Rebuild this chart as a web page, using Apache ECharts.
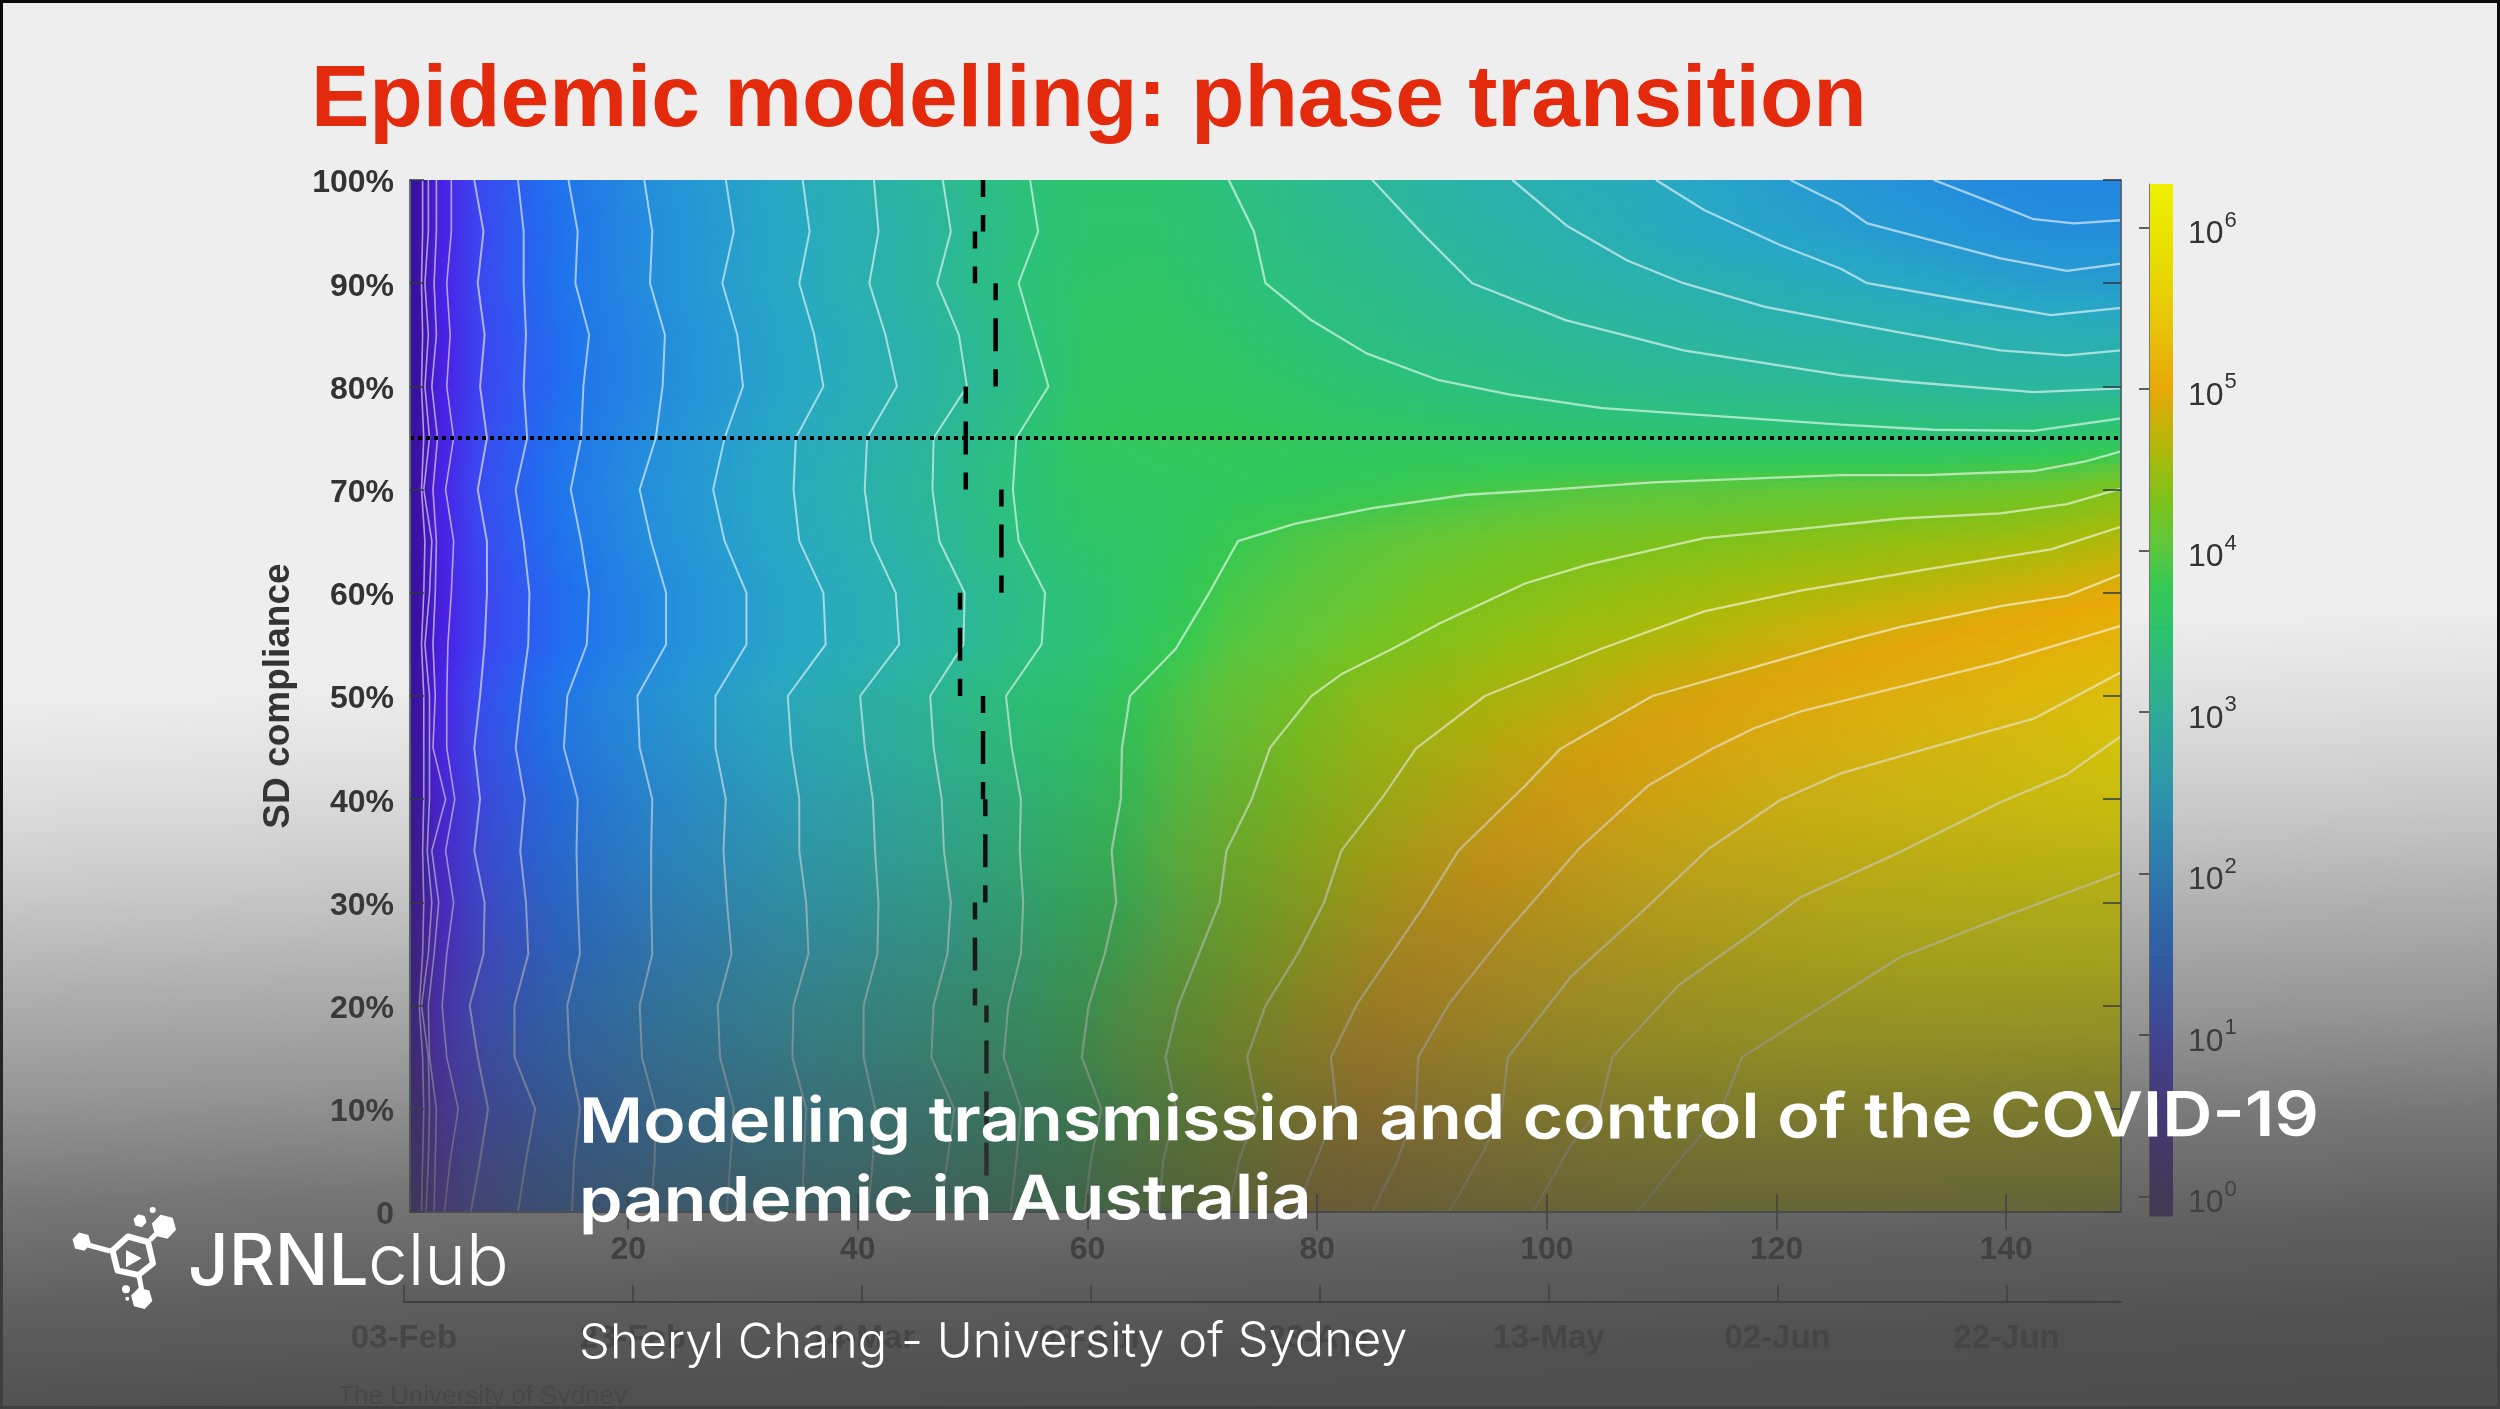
<!DOCTYPE html>
<html>
<head>
<meta charset="utf-8">
<style>html,body{margin:0;padding:0;background:#eee}#c{width:2500px;height:1409px}</style>
<script src="https://cdn.jsdelivr.net/npm/echarts@6/dist/echarts.min.js"></script>
</head>
<body>
<div id="c"></div>
<script>
// ---- heat surface: log10(cases), one row per SD compliance level
const dayColumns = [1,2,3,5,7,11,15,22,29,35,41,47,54,60,66,72,78,84,90,96,102,108,114,120,126,132,138,144,150];
const complianceRows = [100,95,90,85,80,75,70,65,60,55,50,45,40,35,30,25,20,15,10,5,0];
const row100=[-0.05,0.08,0.36,0.70,1.00,1.33,1.60,1.99,2.31,2.59,2.84,3.09,3.36,3.50,3.50,3.36,3.20,3.07,2.95,2.82,2.70,2.58,2.45,2.28,2.15,2.00,1.90,1.85,1.85];
const row95 =[-0.05,0.08,0.35,0.68,0.98,1.30,1.57,1.95,2.27,2.55,2.80,3.05,3.33,3.52,3.52,3.40,3.25,3.15,3.02,2.92,2.80,2.65,2.48,2.38,2.28,2.15,2.05,1.96,1.96];
const row90 =[-0.05,0.08,0.36,0.69,0.99,1.31,1.59,1.97,2.29,2.57,2.82,3.07,3.38,3.55,3.58,3.45,3.32,3.22,3.12,3.00,2.93,2.85,2.77,2.67,2.58,2.48,2.38,2.28,2.25];
const row85 =[-0.05,0.07,0.33,0.65,0.94,1.26,1.53,1.90,2.22,2.50,2.75,3.00,3.31,3.60,3.62,3.55,3.42,3.30,3.22,3.17,3.10,3.02,2.97,2.90,2.87,2.82,2.78,2.72,2.70];
const row80 =[-0.05,0.07,0.33,0.65,0.93,1.25,1.52,1.89,2.21,2.49,2.74,2.99,3.27,3.62,3.66,3.62,3.55,3.45,3.38,3.30,3.24,3.20,3.17,3.14,3.12,3.07,3.03,3.02,3.03];
const row75 =[-0.05,0.08,0.36,0.69,0.99,1.31,1.59,1.97,2.29,2.57,2.82,3.07,3.38,3.66,3.70,3.72,3.68,3.63,3.60,3.55,3.52,3.50,3.48,3.47,3.46,3.45,3.45,3.50,3.60];
const row70 =[-0.05,0.09,0.38,0.72,1.04,1.36,1.64,2.02,2.34,2.62,2.87,3.12,3.40,3.60,3.64,3.68,3.72,3.76,3.84,3.90,3.96,4.00,4.02,4.04,4.07,4.10,4.14,4.20,4.32];
const row65 =[-0.05,0.08,0.36,0.69,0.99,1.31,1.59,1.97,2.29,2.57,2.82,3.07,3.36,3.55,3.60,3.78,3.92,4.02,4.10,4.18,4.24,4.28,4.31,4.36,4.40,4.46,4.50,4.56,4.66];
const row60 =[-0.05,0.07,0.32,0.64,0.92,1.24,1.50,1.88,2.20,2.48,2.73,2.98,3.26,3.45,3.65,3.88,4.00,4.10,4.24,4.31,4.40,4.46,4.53,4.60,4.66,4.72,4.80,4.88,4.98];
const row55 =[-0.05,0.07,0.32,0.64,0.92,1.24,1.50,1.88,2.20,2.48,2.73,2.98,3.27,3.45,3.72,3.95,4.08,4.22,4.35,4.45,4.55,4.63,4.72,4.82,4.92,5.00,5.08,5.15,5.22];
const row50 =[-0.05,0.09,0.38,0.73,1.05,1.37,1.65,2.03,2.35,2.63,2.88,3.13,3.41,3.55,3.85,4.07,4.22,4.42,4.52,4.63,4.72,4.88,4.97,5.07,5.15,5.22,5.28,5.36,5.46];
const row45 =[-0.05,0.09,0.38,0.72,1.04,1.36,1.64,2.02,2.34,2.62,2.87,3.12,3.39,3.60,3.88,4.10,4.30,4.50,4.62,4.77,4.92,5.03,5.14,5.22,5.30,5.38,5.44,5.55,5.70];
const row40 =[-0.05,0.08,0.35,0.68,0.98,1.30,1.57,1.95,2.27,2.55,2.80,3.05,3.35,3.60,3.90,4.15,4.35,4.55,4.72,4.88,5.03,5.17,5.27,5.40,5.48,5.56,5.64,5.72,5.78];
const row35 =[-0.05,0.08,0.35,0.69,0.99,1.31,1.58,1.96,2.28,2.56,2.81,3.06,3.36,3.65,3.95,4.22,4.44,4.66,4.83,5.00,5.13,5.28,5.40,5.48,5.58,5.66,5.70,5.77,5.84];
const row30 =[-0.05,0.08,0.35,0.67,0.97,1.29,1.56,1.94,2.26,2.54,2.79,3.04,3.33,3.65,3.93,4.24,4.48,4.73,4.93,5.08,5.22,5.38,5.50,5.60,5.72,5.78,5.85,5.92,5.98];
const row25 =[-0.05,0.08,0.34,0.66,0.96,1.28,1.55,1.93,2.25,2.53,2.78,3.03,3.34,3.72,4.00,4.30,4.56,4.82,5.00,5.18,5.33,5.46,5.60,5.72,5.82,5.92,5.98,6.02,6.05];
const row20 =[-0.05,0.09,0.38,0.72,1.04,1.36,1.64,2.02,2.34,2.62,2.87,3.12,3.38,3.80,4.08,4.40,4.67,4.92,5.10,5.28,5.44,5.57,5.70,5.82,5.92,6.00,6.03,6.06,6.08];
const row15 =[-0.05,0.09,0.38,0.72,1.04,1.36,1.64,2.02,2.34,2.62,2.87,3.12,3.40,3.82,4.14,4.46,4.75,5.00,5.20,5.38,5.55,5.72,5.83,5.95,6.02,6.06,6.08,6.10,6.12];
const row10 =[-0.05,0.08,0.34,0.65,0.95,1.27,1.54,1.92,2.24,2.52,2.77,3.02,3.34,3.73,4.08,4.40,4.72,5.00,5.20,5.40,5.58,5.75,5.89,5.98,6.04,6.07,6.10,6.12,6.13];
const row5  =[-0.05,0.08,0.35,0.68,0.98,1.30,1.57,1.95,2.27,2.55,2.80,3.05,3.36,3.78,4.14,4.48,4.79,5.05,5.26,5.45,5.65,5.82,5.93,6.02,6.07,6.10,6.12,6.13,6.15];
const row0  =[-0.05,0.08,0.36,0.70,1.01,1.33,1.60,1.98,2.30,2.58,2.83,3.08,3.38,3.81,4.16,4.52,4.87,5.12,5.34,5.55,5.73,5.90,6.00,6.06,6.10,6.13,6.15,6.16,6.17];
const heatRows=[row100,row95,row90,row85,row80,row75,row70,row65,row60,row55,row50,row45,row40,row35,row30,row25,row20,row15,row10,row5,row0];

// ---- colour scale
const colormapExp=[-0.12,0,0.5,1,1.5,2,2.5,3,3.5,3.8,4,4.3,4.6,5,5.4,5.8,6.27];
const colormapColor=['#38109a','#3a10a0','#4a22e6','#3a48f0','#2070ee','#2490da','#28a8c4','#2bb5a0','#2cc56e','#36c852','#5ac73e','#7cc21c','#aaba0a','#e8a808','#e8c408','#e8dc00','#eef000'];

// ---- contour lines: day reached at each compliance row
const contour1=[2.1,2.1,2.0,2.1,2.0,2.2,2.0,2.3,2.2,2.0,2.2,2.2,2.2,2.1,2.2,2.1,1.8,2.1,2.2,2.1,2.0];
const contour2=[2.6,2.6,2.3,2.6,2.3,2.7,2.2,2.9,2.7,2.3,2.7,2.7,2.7,2.5,2.9,2.6,2.0,2.6,2.7,2.6,2.4];
const contour3=[3.3,3.3,3.1,3.3,2.9,3.4,3.0,3.3,3.2,3.0,3.2,3.0,4.1,2.9,3.5,3.1,2.6,2.7,3.3,3.2,3.1];
const contour4=[4.6,4.6,4.2,4.5,4.2,4.8,4.1,4.8,4.6,4.3,4.2,4.2,4.9,4.1,4.8,4.2,3.8,4.2,5.2,4.5,4.0];
const contour5=[6.6,7.4,6.9,7.5,7.1,7.7,6.9,7.7,7.7,7.5,7.1,6.6,7.1,6.6,7.5,7.4,6.2,6.9,7.8,7.1,6.3];
const contour6=[10.4,10.9,10.9,11.1,10.9,11.2,10.2,10.9,11.4,11.3,10.7,10.2,11.0,10.6,11.1,11.3,10.1,10.1,11.9,11.1,10.4];
const contour7=[14.8,15.6,15.4,16.6,16.1,15.9,15.0,15.9,16.6,16.4,14.7,14.4,15.6,15.5,15.6,15.8,14.7,14.9,15.8,15.3,15.1];
const contour8=[21.4,22.1,21.9,23.2,23.0,22.4,21.0,22.0,23.3,23.3,20.8,21.0,22.1,22.0,22.0,22.1,21.0,21.2,22.4,22.3,22.0];
const contour9=[28.5,29.2,28.2,29.5,30.0,28.4,27.4,28.4,30.3,30.3,27.6,27.6,28.5,28.3,28.6,29.0,27.8,28.0,29.2,28.9,28.6];
const contour10=[35.2,35.8,34.9,36.2,37.0,34.6,34.4,34.9,37.0,37.2,33.9,34.2,34.9,34.9,35.5,35.7,34.4,34.3,35.5,35.3,35.1];
const contour11=[41.4,41.8,41.0,42.4,43.4,40.8,40.6,41.2,43.3,43.6,40.2,40.6,41.3,41.5,41.8,41.7,40.5,40.5,41.5,41.3,40.9];
const contour12=[47.4,48.1,46.9,48.8,49.5,46.6,46.5,47.1,49.3,49.2,46.3,46.6,47.3,47.5,48.1,47.8,46.6,46.4,48.4,47.8,47.1];
const contour13=[55.0,55.7,54.0,55.3,56.6,53.8,53.5,54.0,56.3,56.0,52.9,53.4,54.2,54.1,54.4,54.2,53.1,52.7,54.2,53.8,53.3];
const verticalContours=[contour1,contour2,contour3,contour4,contour5,contour6,contour7,contour8,contour9,contour10,contour11,contour12,contour13];

// ---- contour lines as [day, compliance] pairs
const upper1=[[133.7,100],[138.1,98.1],[142.4,96.2],[145.9,95.8],[150,96.1]];
const upper2=[[121.2,100],[125.6,97.6],[127.9,95.8],[133.7,94.1],[139.5,92.4],[145.3,91.2],[150,91.9]];
const upper3=[[109.5,100],[113.7,97.1],[120.3,93.7],[125.6,91.4],[127.9,90],[136.6,88.3],[143.9,86.9],[150,87.6]];
const upper4=[[97,100],[101.7,95.6],[107,92.2],[111.9,90],[119,87.7],[125.6,86.3],[130.8,85.2],[139.5,83.5],[145.3,83],[150,83.5]];
const upper5=[[84.8,100],[89,95],[93.5,90],[101.7,86.4],[111.9,83.5],[125.6,81.1],[130.8,80.5],[142.4,79.45],[150,79.8]];
const upper6=[[72.3,100],[74.5,95],[75.5,90],[79.5,86.4],[84.3,83.2],[90.6,80.6],[96.8,79.2],[104.8,77.9],[125.6,76.3],[133.7,75.8],[142.4,75.7],[150,76.9]];
const lower1=[[59.7,0],[60.3,5],[61.2,10],[59.5,15],[60.1,20],[61.5,25],[62.5,30],[62.1,35],[62.9,40],[63,45],[63.7,50],[67.7,54.6],[70.6,60],[73.1,65],[78.1,66.7],[84.8,68.2],[93,69.5],[100.3,70],[109.2,70.7],[125.6,71.4],[133,71.4],[142.4,71.8],[146.8,72.7],[150,73.7]];
const lower2=[[66.2,0],[66.6,5],[67.7,10],[66.8,15],[67.9,20],[69.7,25],[71.5,30],[72.1,35],[74.3,40],[75.9,45],[79.5,50],[82.1,52.1],[86.6,54.6],[90.6,57],[98.1,60.9],[103.5,62.7],[113.7,65.3],[122.1,66.2],[130.8,67.2],[139.5,67.7],[145.3,68.6],[150,70.1]];
const lower3=[[72.3,0],[73.2,5],[74.8,10],[73.9,15],[75.5,20],[78.3,25],[80.6,30],[82.1,35],[85.7,40.2],[88.6,44.9],[94.6,50],[104.8,54.6],[113.7,58.2],[122.1,60.2],[133.7,62.4],[143.9,64.2],[150,66.4]];
const lower4=[[78.1,0],[79.9,5],[81.7,10],[81.2,15],[83.5,20.2],[89.2,29.5],[92.3,35],[98.1,41.3],[101.2,44.9],[109.2,50],[118.1,52.8],[125.6,55.2],[130.8,56.7],[139.5,58.7],[145.3,59.7],[150,61.8]];
const lower5=[[84.8,0],[87,5],[88.6,10],[88.8,15],[91.5,20.2],[96.3,26.9],[102.8,35.2],[108.8,41.3],[114.6,45],[118.1,46.9],[122.1,48.5],[130.8,50.9],[139.5,53.3],[150,56.8]];
const lower6=[[91.5,0],[94.6,6.1],[96.1,10],[96.6,15],[102.1,22.8],[108.3,29.1],[114.1,35.2],[120.3,39.9],[125.6,42.5],[133.7,45.1],[142.4,47.8],[150,52.3]];
const lower7=[[98.8,0],[102.1,6.5],[104.6,10],[105.7,15],[111.5,22],[118.1,27.2],[122.1,30.5],[130.8,34.9],[139.5,39.7],[145.3,42.4],[150,46.1]];
const lower8=[[107.9,0],[111.5,5],[115,9.4],[117,15],[122.1,18.6],[130.8,24.7],[139.5,28.5],[150,32.9]];
const curvedContours=[upper1,upper2,upper3,upper4,upper5,upper6,lower1,lower2,lower3,lower4,lower5,lower6,lower7,lower8];

// ---- peak-day dashes [day, from compliance, to compliance] and the 75% line
const peakDay=[[50.9,100,95],[50.2,95,90],[52,90,80],[49.4,80,70],[52.5,70,60],[48.9,60,50],[50.9,50,40],[51.1,40,30],[50.2,30,20],[51.2,20,3]];
const thresholdCompliance=[75];

// ---- tick labels
const dayTicks=[20,40,60,80,100,120,140];
const complianceTicks=[0,10,20,30,40,50,60,70,80,90,100];
const dateOffsets=[0,20,40,60,80,100,120,140];
const dateLabels=['03-Feb','23-Feb','14-Mar','03-Apr','23-Apr','13-May','02-Jun','22-Jun'];
const colorbarExponents=[0,1,2,3,4,5,6];

function hexRgb(h){return [parseInt(h.slice(1,3),16),parseInt(h.slice(3,5),16),parseInt(h.slice(5,7),16)];}
const cmRgb=colormapColor.map(hexRgb);
function colorAt(v){
  if(v<=colormapExp[0])return colormapColor[0];
  for(let i=1;i<colormapExp.length;i++){
    if(v<=colormapExp[i]){
      const t=(v-colormapExp[i-1])/(colormapExp[i]-colormapExp[i-1]);
      const a=cmRgb[i-1],b=cmRgb[i];
      return 'rgb('+[0,1,2].map(k=>Math.round(a[k]+(b[k]-a[k])*t)).join(',')+')';
    }
  }
  return colormapColor[colormapColor.length-1];
}
function hGradient(vL,vR){
  const colorStops=[];
  for(let k=0;k<=4;k++)colorStops.push({offset:k/4,color:colorAt(vL+(vR-vL)*k/4)});
  return {type:'linear',x:0,y:0,x2:1,y2:0,colorStops};
}
const heatCells=[];
for(let r=0;r<complianceRows.length-1;r++){
  for(let c=0;c<dayColumns.length-1;c++){
    heatCells.push([dayColumns[c],dayColumns[c+1],complianceRows[r],complianceRows[r+1],
      heatRows[r][c],heatRows[r][c+1],heatRows[r+1][c],heatRows[r+1][c+1]]);
  }
}
function renderHeat(params,api){
  const x0=api.value(0),x1=api.value(1),pT=api.value(2),pB=api.value(3);
  const tl=api.value(4),tr=api.value(5),bl=api.value(6),br=api.value(7);
  const a=api.coord([x0,pT]),b=api.coord([x1,pB]);
  const N=6,h=(b[1]-a[1])/N,children=[];
  for(let s=0;s<N;s++){
    const t=(s+0.5)/N;
    children.push({type:'rect',silent:true,
      shape:{x:a[0],y:a[1]+s*h,width:b[0]-a[0]+(x1<150?1:0),height:h+(pB>0||s<N-1?1:0)},
      style:{fill:hGradient(tl+(bl-tl)*t,tr+(br-tr)*t)}});
  }
  return {type:'group',children};
}
const colorbarCells=[];
for(let i=0;i<colormapExp.length-1;i++)colorbarCells.push([colormapExp[i],colormapExp[i+1]]);
function renderBar(params,api){
  const e0=api.value(0),e1=api.value(1);
  const a=api.coord([0,e1]),b=api.coord([1,e0]);
  return {type:'rect',silent:true,shape:{x:a[0],y:a[1],width:b[0]-a[0],height:b[1]-a[1]+0.5},
    style:{fill:{type:'linear',x:0,y:0,x2:0,y2:1,colorStops:[{offset:0,color:colorAt(e1)},{offset:1,color:colorAt(e0)}]}}};
}

const series=[];
series.push({type:'custom',name:'surface',xAxisIndex:0,yAxisIndex:0,data:heatCells,renderItem:renderHeat,z:1,animation:false,silent:true,progressive:0,clip:true,encode:{x:0,y:2}});
const contourStyle={color:'rgba(255,255,255,0.58)',width:2.3};
verticalContours.forEach((xs,i)=>series.push({type:'line',name:'contour'+(i+1),xAxisIndex:0,yAxisIndex:0,
  data:xs.map((x,r)=>[x,complianceRows[r]]),showSymbol:false,symbol:'none',silent:true,animation:false,z:2,
  lineStyle:Object.assign({},contourStyle,{width:i<4?1.6:2})}));
curvedContours.forEach((pts,i)=>series.push({type:'line',name:'curve'+(i+1),xAxisIndex:0,yAxisIndex:0,
  data:pts,showSymbol:false,symbol:'none',silent:true,animation:false,z:2,lineStyle:contourStyle}));
series.push({type:'line',name:'threshold',xAxisIndex:0,yAxisIndex:0,data:[[1,thresholdCompliance[0]],[150,thresholdCompliance[0]]],
  showSymbol:false,symbol:'none',silent:true,animation:false,z:3,lineStyle:{color:'#000',width:4,type:[4,4]}});
peakDay.forEach((seg,i)=>series.push({type:'line',name:'peak'+i,xAxisIndex:0,yAxisIndex:0,data:[[seg[0],seg[1]],[seg[0],seg[2]]],
  showSymbol:false,symbol:'none',silent:true,animation:false,z:4,lineStyle:{color:'#000',width:4.5,type:[33,18],dashOffset:16}}));
series.push({type:'custom',name:'colorbar',xAxisIndex:2,yAxisIndex:2,data:colorbarCells,renderItem:renderBar,animation:false,silent:true,encode:{y:[0,1]},z:1});

const axisText={color:'#333',fontFamily:'Liberation Sans',fontSize:32,fontWeight:'bold'};
const innerTick={show:true,inside:true,length:18,lineStyle:{color:'#2a3a40',width:1.5}};
const frame={show:true,lineStyle:{color:'#5b6b70',width:2}};

const hexPts=(cx,cy,r,rot)=>{const p=[];for(let i=0;i<6;i++){const a=rot+i*Math.PI/3;p.push([cx+r*Math.cos(a),cy+r*Math.sin(a)]);}return p;};
const logoWhite='#ffffff';
const logo=[
 {type:'polygon',shape:{points:[[128,1236.5],[148,1242],[153,1263.5],[138.5,1275],[117.5,1270.5],[112.5,1250.5]]},style:{fill:'none',stroke:logoWhite,lineWidth:6,lineJoin:'round'}},
 {type:'polygon',shape:{points:[[126,1250],[141.7,1258.3],[126,1267.3]]},style:{fill:logoWhite}},
 {type:'polygon',shape:{points:hexPts(164,1226.7,12.5,0.25)},style:{fill:logoWhite}},
 {type:'polygon',shape:{points:hexPts(81.7,1241.7,9.5,0.25)},style:{fill:logoWhite}},
 {type:'polygon',shape:{points:hexPts(141.7,1298.3,11,0.25)},style:{fill:logoWhite}},
 {type:'polygon',shape:{points:hexPts(140,1220.7,6.7,0.25)},style:{fill:logoWhite}},
 {type:'circle',shape:{cx:152.7,cy:1210,r:3},style:{fill:logoWhite}},
 {type:'circle',shape:{cx:126,cy:1289.3,r:4},style:{fill:logoWhite}},
 {type:'circle',shape:{cx:127.3,cy:1298.7,r:2},style:{fill:logoWhite}},
 {type:'line',shape:{x1:88,y1:1245,x2:110,y2:1251},style:{stroke:logoWhite,lineWidth:5}},
 {type:'line',shape:{x1:150,y1:1240,x2:158,y2:1232},style:{stroke:logoWhite,lineWidth:5}},
 {type:'line',shape:{x1:139,y1:1276,x2:141.7,y2:1290},style:{stroke:logoWhite,lineWidth:5}}
].map(e=>Object.assign(e,{z:101,silent:true}));

const fade=[[0,0],[0.127,0.094],[0.255,0.224],[0.383,0.382],[0.51,0.53],[0.638,0.706],[0.765,0.841],[0.892,0.93],[1,0.947]];
const option={
  backgroundColor:'#eeeeee',animation:false,
  title:{text:'Epidemic modelling: phase transition',left:306,top:53,textStyle:{color:'#e42a0c',fontFamily:'Liberation Sans',fontWeight:'bold',fontSize:87.5}},
  grid:[
    {left:410,top:180,width:1711,height:1032},
    {left:404,top:1301,width:1717,height:1},
    {left:2149,top:184,width:24,height:1032}
  ],
  xAxis:[
    {gridIndex:0,type:'value',min:1,max:150,position:'bottom',z:6,splitLine:{show:false},axisLine:frame,
     axisTick:Object.assign({customValues:dayTicks},innerTick),
     axisLabel:Object.assign({customValues:dayTicks,margin:22,hideOverlap:false},axisText)},
    {gridIndex:0,type:'value',min:1,max:150,position:'top',z:6,splitLine:{show:false},axisLine:frame,
     axisTick:Object.assign({customValues:dayTicks},innerTick),axisLabel:{show:false}},
    {gridIndex:2,type:'value',min:0,max:1,show:false},
    {gridIndex:1,type:'value',min:0,max:150,position:'bottom',splitLine:{show:false},axisLine:{show:true,lineStyle:{color:'#222',width:2}},
     axisTick:{show:true,inside:true,length:17,customValues:dateOffsets,lineStyle:{color:'#222',width:1.5}},
     axisLabel:{customValues:dateOffsets,margin:20,color:'#555',fontFamily:'Liberation Sans',fontSize:33,fontWeight:'bold',
       formatter:v=>dateLabels[dateOffsets.indexOf(v)]}}
  ],
  yAxis:[
    {gridIndex:0,type:'value',min:0,max:100,interval:10,position:'left',z:6,splitLine:{show:false},axisLine:frame,
     axisTick:Object.assign({customValues:complianceTicks},innerTick,{length:14}),
     axisLabel:{margin:16,formatter:v=>'{l|'+(v===0?'0':v+'%')+'}',
       rich:{l:Object.assign({padding:[7,0,0,0]},axisText)}},
     name:'SD compliance',nameLocation:'middle',nameGap:113,nameRotate:90,
     nameTextStyle:{color:'#333',fontFamily:'Liberation Sans',fontSize:37,fontWeight:'bold'}},
    {gridIndex:0,type:'value',min:0,max:100,interval:10,position:'right',z:6,splitLine:{show:false},axisLine:frame,
     axisTick:Object.assign({customValues:complianceTicks},innerTick),axisLabel:{show:false}},
    {gridIndex:2,type:'value',min:-0.12,max:6.27,position:'right',z:6,splitLine:{show:false},
     axisLine:{show:true,lineStyle:{color:'#77776a',width:1}},
     axisTick:{show:true,inside:true,length:10,customValues:colorbarExponents,lineStyle:{color:'#333',width:1.5}},
     axisLabel:{customValues:colorbarExponents,margin:15,color:'#333',fontFamily:'Liberation Sans',
       formatter:v=>'{b|10}{s|'+v+'}',
       rich:{b:{fontSize:32,color:'#333',fontFamily:'Liberation Sans',padding:[14,0,0,0]},s:{fontSize:22,color:'#333',fontFamily:'Liberation Sans',padding:[0,0,14,1]}}}},
    {gridIndex:1,type:'value',min:0,max:1,show:false}
  ],
  series,
  graphic:{elements:[
    {type:'rect',shape:{x:1.5,y:1.5,width:2497,height:1406},style:{fill:'none',stroke:'#0a0a0a',lineWidth:3},z:40,silent:true},
    {type:'text',style:{text:'The University of Sydney',x:338,y:1397,fontSize:26,fontFamily:'Liberation Sans',fill:'#777',verticalAlign:'middle'},z:50,silent:true},
    {type:'rect',shape:{x:0,y:0,width:2500,height:1409},silent:true,z:100,
     style:{fill:{type:'linear',global:true,x:1250,y:644,x2:1280.9,y2:1451.8,
       colorStops:fade.map(f=>({offset:f[0],color:'rgba(68,68,68,'+f[1]+')'}))}}},
    {type:'text',z:101,silent:true,x:579,y:1124,rotation:0.004,scaleX:1.123,style:{text:'Modelling transmission and control of the COVID-19',fontSize:62,fontWeight:600,fontFamily:'Inter',fill:'#fff',verticalAlign:'middle'}},
    {type:'text',z:101,silent:true,x:579,y:1203,rotation:0.004,scaleX:1.13,style:{text:'pandemic in Australia',fontSize:62,fontWeight:600,fontFamily:'Inter',fill:'#fff',verticalAlign:'middle'}},
    {type:'text',z:101,silent:true,x:579,y:1344,rotation:0.003,scaleX:1.018,style:{text:'Sheryl Chang - University of Sydney',fontSize:48,fontWeight:300,fontFamily:'Inter',fill:'#fff',verticalAlign:'middle'}},
    {type:'text',z:101,silent:true,style:{text:'JRNL',x:188,y:1264,fontSize:71,fontWeight:500,fontFamily:'Inter',fill:'#fff',verticalAlign:'middle'}},
    {type:'text',z:101,silent:true,style:{text:'club',x:368,y:1264,fontSize:71,fontWeight:300,fontFamily:'Inter',fill:'#fff',verticalAlign:'middle'}}
  ].concat(logo)}
};
const chart=echarts.init(document.getElementById('c'),null,{renderer:'canvas',width:2500,height:1409});
chart.setOption(option);
</script>
</body>
</html>
